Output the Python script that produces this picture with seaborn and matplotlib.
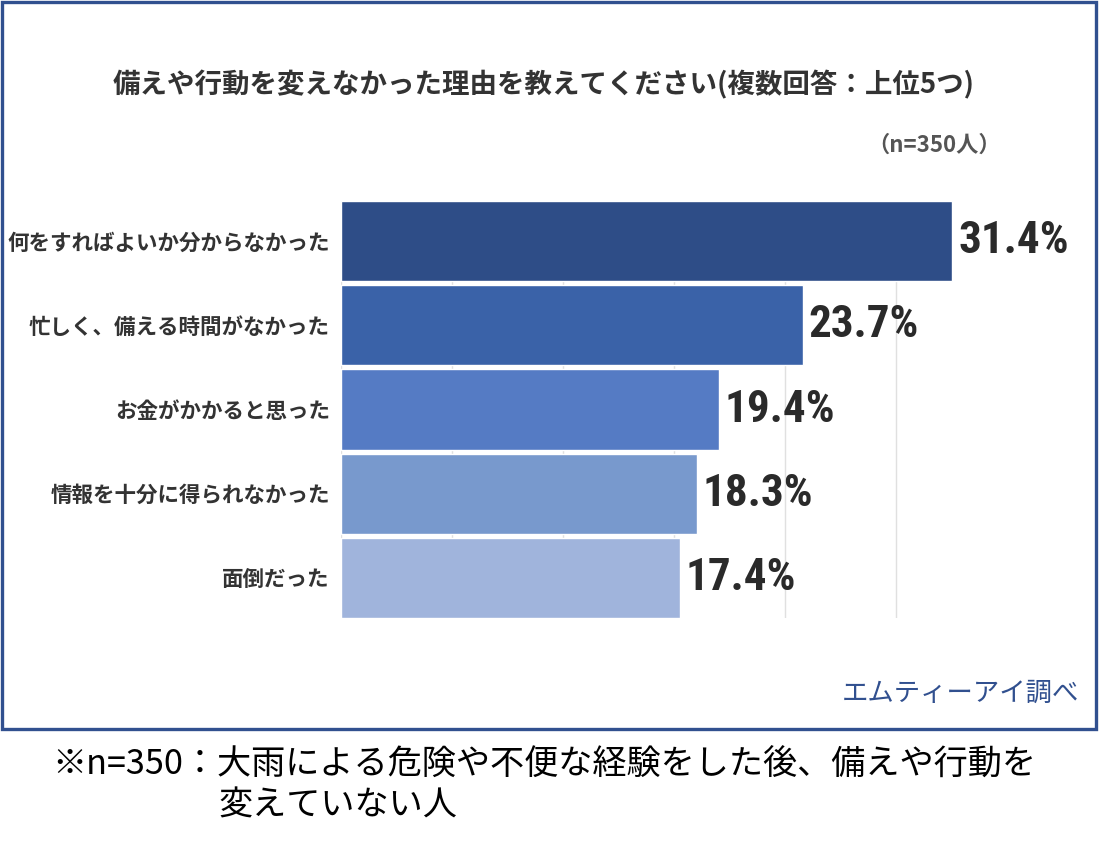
import matplotlib
matplotlib.use("Agg")
import matplotlib.pyplot as plt
from matplotlib.patches import Rectangle
import numpy as np
import seaborn as sns

# データ
reasons = [
    "何をすればよいか分からなかった",
    "忙しく、備える時間がなかった",
    "お金がかかると思った",
    "情報を十分に得られなかった",
    "面倒だった",
]
shares = [31.4, 23.7, 19.4, 18.3, 17.4]
bar_colors = ["#2e4d87", "#3a62a8", "#557bc4", "#7899cd", "#a0b4dc"]

title = "備えや行動を変えなかった理由を教えてください(複数回答：上位5つ)"
sample_note = "（n=350人）"
source = "エムティーアイ調べ"
foot_1 = "※n=350：大雨による危険や不便な経験をした後、備えや行動を"
foot_2 = "変えていない人"

sns.set_style("white")
plt.rcParams["font.family"] = ["Noto Sans CJK JP", "DejaVu Sans"]

W, H = 1099, 857
fig = plt.figure(figsize=(W / 100, H / 100), dpi=100)


def fx(px):
    return px / W


def fy(py):
    return 1 - py / H


# 枠
fig.patches.append(Rectangle((fx(1.5), fy(729)), fx(1096) - fx(1.5), fy(1.5) - fy(729),
                             transform=fig.transFigure, fill=False,
                             edgecolor="#31508f", linewidth=2.4))

ax = fig.add_axes([fx(341), fy(618), fx(1007) - fx(341), fy(201) - fy(618)])
sns.barplot(x=shares, y=reasons, hue=reasons, palette=bar_colors, legend=False,
            orient="h", width=0.95, saturation=1, ax=ax, zorder=2)

step = 5.7
ax.set_xlim(0, step * 6)
ax.set_xticks(np.arange(0, step * 5 + 0.1, step))
ax.set_ylim(4.475, -0.475)
ax.grid(axis="x", color="#e0e0e0", linewidth=1, zorder=0)
ax.set_axisbelow(True)
ax.tick_params(axis="x", length=0, labelbottom=False)
ax.tick_params(axis="y", length=0, pad=8, labelsize=15.5, labelcolor="#333333")
for lbl in ax.get_yticklabels():
    lbl.set_fontweight("bold")
ax.set_xlabel("")
ax.set_ylabel("")
sns.despine(ax=ax, left=True, bottom=True)

for i, v in enumerate(shares):
    ax.annotate(f"{v}%", xy=(v, i), xytext=(4, 0), textcoords="offset points",
                va="center", ha="left", fontsize=32.5, fontweight="bold",
                fontstretch="condensed", color="#2a2a2a",
                family=["Roboto Condensed", "Noto Sans Condensed", "DejaVu Sans"])

fig.text(fx(544), fy(85), title, ha="center", va="center", fontsize=19.8,
         fontweight="bold", color="#333333")
fig.text(fx(1001), fy(145), sample_note, ha="right", va="center", fontsize=16,
         fontweight="bold", color="#555555")
fig.text(fx(1079), fy(693), source, ha="right", va="center", fontsize=19,
         color="#31508f")
fig.text(fx(52), fy(765), foot_1, ha="left", va="center", fontsize=24.6,
         color="#000000")
fig.text(fx(218), fy(806), foot_2, ha="left", va="center", fontsize=24.6,
         color="#000000")

fig.savefig("out.png", dpi=100)
